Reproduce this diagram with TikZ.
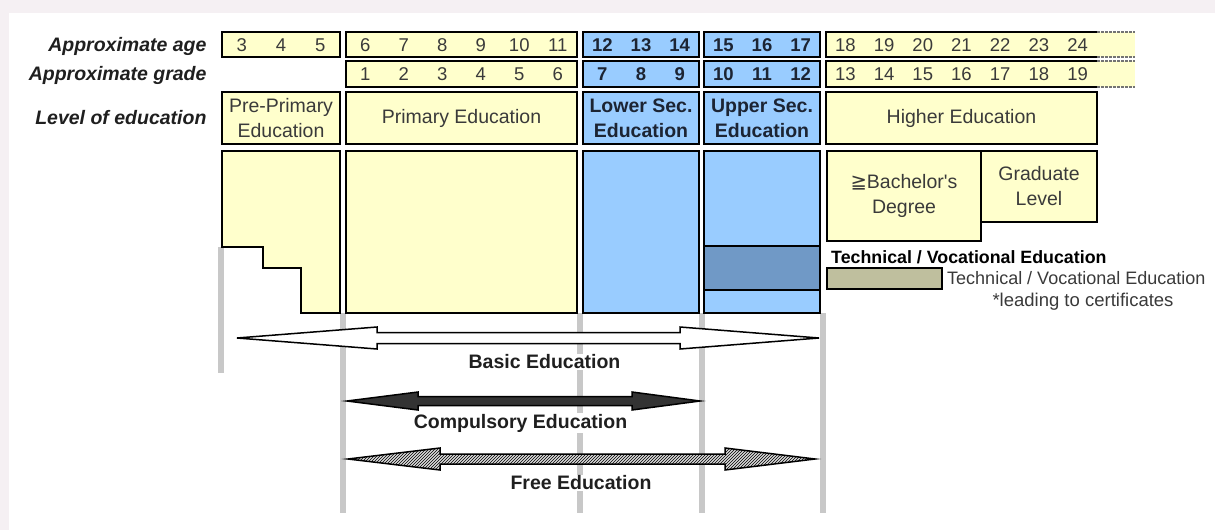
\documentclass[tikz,border=0pt]{standalone}
\usepackage{fontspec}
\setmainfont{Liberation Sans}
\newfontfamily\symfont{DejaVu Sans}
\usetikzlibrary{patterns}

\definecolor{edupink}{HTML}{F5F0F3}
\definecolor{eduyellow}{HTML}{FFFFCC}
\definecolor{edublue}{HTML}{99CCFF}
\definecolor{edudeep}{HTML}{7099C6}
\definecolor{eduolive}{HTML}{BFBF9E}
\definecolor{edugrid}{HTML}{C8C8C8}
\definecolor{edutext}{HTML}{3A3A3A}
\definecolor{edunavy}{HTML}{1C2433}

\tikzset{
  ybox/.style={draw=black, line width=2.2pt, fill=eduyellow, inner sep=0pt},
  bbox/.style={draw=black, line width=2.2pt, fill=edublue, inner sep=0pt},
  rowlabel/.style={anchor=base east, font=\fontsize{19.5}{24}\selectfont\bfseries\itshape, text=black!88},
  num/.style={font=\fontsize{18.5}{22}\selectfont, text=edutext, text height=13.2pt, text depth=0pt, inner sep=0pt},
  bnum/.style={font=\fontsize{18.5}{22}\selectfont\bfseries, text=edunavy, text height=13.2pt, text depth=0pt, inner sep=0pt},
  ytext/.style={align=center, font=\fontsize{19.5}{25}\selectfont, text=edutext},
  btext/.style={align=center, font=\fontsize{19.5}{25}\selectfont\bfseries, text=edunavy},
  spanlabel/.style={font=\fontsize{19.5}{24}\selectfont\bfseries, fill=white, inner sep=1pt, text=black!88},
  gridline/.style={draw=edugrid, line width=6pt},
  eduarrow/.style={draw=black, line width=1.5pt, line join=miter},
}

\begin{document}
\begin{tikzpicture}[x=1pt, y=-1pt]
\useasboundingbox (0,0) rectangle (1215,530);
% Frame
\fill[edupink] (0,0) rectangle (1215,530);
\fill[white] (9,13) rectangle (1215,530);

% Row labels
\node[rowlabel] (lab-age) at (210,51.5) {Approximate age};
\node[rowlabel] (lab-grade) at (210,80) {Approximate grade};
\node[rowlabel] (lab-level) at (210,124.3) {Level of education};

% Grey guide lines
\draw[gridline] (221,247) -- (221,373);
\foreach \gx in {343,580,702,823}
  \draw[gridline] (\gx,313) -- (\gx,513);

% Age row
\node[ybox, minimum width=118pt, minimum height=25pt] (age-pre) at (281,44.5) {};
\node[ybox, minimum width=231pt, minimum height=25pt] (age-prim) at (461.5,44.5) {};
\node[bbox, minimum width=116pt, minimum height=25pt] (age-low) at (641,44.5) {};
\node[bbox, minimum width=116pt, minimum height=25pt] (age-up) at (762,44.5) {};
\foreach \n [count=\i] in {3,4,5}
  \node[num] (a\n) at (222+39.33*\i-19.67,45) {\n};
\foreach \n [count=\i] in {6,...,11}
  \node[num] (a\n) at (346+38.5*\i-19.25,45) {\n};
\foreach \n [count=\i] in {12,13,14}
  \node[bnum] (a\n) at (583+38.67*\i-19.33,45) {\n};
\foreach \n [count=\i] in {15,16,17}
  \node[bnum] (a\n) at (704+38.67*\i-19.33,45) {\n};

% Grade row
\node[ybox, minimum width=231pt, minimum height=26pt] (grade-prim) at (461.5,74) {};
\node[bbox, minimum width=116pt, minimum height=26pt] (grade-low) at (641,74) {};
\node[bbox, minimum width=116pt, minimum height=26pt] (grade-up) at (762,74) {};
\foreach \n [count=\i] in {1,...,6}
  \node[num] (g\n) at (346+38.5*\i-19.25,74) {\n};
\foreach \n [count=\i] in {7,8,9}
  \node[bnum] (g\n) at (583+38.67*\i-19.33,74) {\n};
\foreach \n [count=\i] in {10,11,12}
  \node[bnum] (g\n) at (704+38.67*\i-19.33,74) {\n};

% Higher education rows (open to the right)
\foreach \top/\bot in {32/57,61/87}{
  \fill[eduyellow] (826,\top) rectangle (1135,\bot);
  \draw[line width=2.2pt] (1097,\top) -- (826,\top) -- (826,\bot) -- (1097,\bot);
  \draw[line width=2pt, black!55, dash pattern=on 3pt off 1pt] (1097,\top) -- (1135,\top);
  \draw[line width=2pt, black!55, dash pattern=on 3pt off 1pt] (1097,\bot) -- (1135,\bot);
}
\foreach \n [count=\i] in {18,...,24}
  \node[num] (a\n) at (826+38.71*\i-19.36,45) {\n};
\foreach \n [count=\i] in {13,...,19}
  \node[num] (g\n) at (826+38.71*\i-19.36,74) {\n};

% Level row
\node[ybox, ytext, minimum width=118pt, minimum height=52pt] (lv-pre) at (281,118) {Pre-Primary\\Education};
\node[ybox, ytext, minimum width=231pt, minimum height=52pt] (lv-prim) at (461.5,118) {Primary Education};
\node[bbox, btext, minimum width=116pt, minimum height=52pt] (lv-low) at (641,118) {Lower Sec.\\Education};
\node[bbox, btext, minimum width=116pt, minimum height=52pt] (lv-up) at (762,118) {Upper Sec.\\Education};
\node[ybox, ytext, minimum width=271pt, minimum height=52pt] (lv-high) at (961.5,118) {Higher Education};

% Body blocks
\draw[ybox] (222,151) -- (340,151) -- (340,313) -- (301,313) -- (301,268)
  -- (263,268) -- (263,247) -- (222,247) -- cycle; % stepped pre-primary
\node[ybox, minimum width=231pt, minimum height=162pt] (body-prim) at (461.5,232) {};
\node[bbox, minimum width=116pt, minimum height=162pt] (body-low) at (641,232) {};
\node[bbox, minimum width=116pt, minimum height=162pt] (body-up) at (762,232) {};
\node[bbox, fill=edudeep, line width=1.6pt, minimum width=116pt, minimum height=44pt] (tech) at (762,268) {};
\node[ybox, ytext, minimum width=154pt, minimum height=90pt] (bach) at (904,196) {{\symfont ≧}Bachelor\textquotesingle s\\Degree};
\node[ybox, ytext, minimum width=116pt, minimum height=71pt] (grad) at (1039,186.5) {Graduate\\Level};

% Legend
\node[anchor=west, inner sep=0pt, font=\fontsize{17.8}{20}\selectfont\bfseries] (leg-title) at (831,257) {Technical / Vocational Education};
\node[draw=black, line width=2pt, fill=eduolive, minimum width=115pt, minimum height=21pt, inner sep=0pt] (leg-box) at (884.5,278.5) {};
\node[anchor=west, inner sep=0pt, font=\fontsize{18}{20}\selectfont, text=edutext] (leg-text) at (947,278) {Technical / Vocational Education};
\node[inner sep=0pt, font=\fontsize{18.5}{20}\selectfont, text=edutext] (leg-note) at (1083,302) {*leading to certificates};

% Span arrows
\draw[eduarrow, fill=white] (237,338) -- (377,327) -- (377,332.5) -- (680,332.5) -- (680,327)
  -- (819,338) -- (680,349) -- (680,343.5) -- (377,343.5) -- (377,349) -- cycle; % basic
\draw[eduarrow, fill=black!80] (347,401) -- (418,392) -- (418,396.5) -- (632,396.5) -- (632,392)
  -- (700,401) -- (632,410) -- (632,405.5) -- (418,405.5) -- (418,410) -- cycle; % compulsory
\draw[eduarrow, preaction={fill=black!15}, pattern=north east lines, pattern color=black]
  (348,459) -- (440,448) -- (440,454) -- (725,454) -- (725,448)
  -- (815,459) -- (725,470) -- (725,464) -- (440,464) -- (440,470) -- cycle; % free

% Span labels
\node[spanlabel] (basic) at (544.5,362) {Basic Education};
\node[spanlabel] (compulsory) at (520.5,423) {Compulsory Education};
\node[spanlabel] (free) at (581,483) {Free Education};
\end{tikzpicture}
\end{document}
